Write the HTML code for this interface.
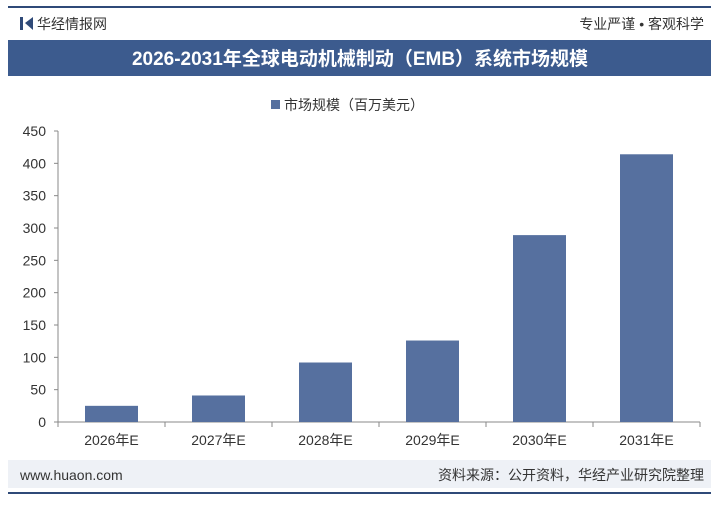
<!DOCTYPE html>
<html><head><meta charset="utf-8"><style>
body{margin:0;width:719px;height:500px;background:#fff;overflow:hidden;font-family:"Liberation Sans","Noto Sans CJK SC",sans-serif;}
svg text{font-family:"Liberation Sans","Noto Sans CJK SC",sans-serif;}
</style></head><body>
<svg width="719" height="500">
<line x1="8" y1="7" x2="711" y2="7" stroke="#2f4a78" stroke-width="2"/>
<g><rect x="20" y="17" width="3" height="13" fill="#2f4a78"/><polygon points="25,23 33,17 33,30" fill="#2f4a78"/></g>
<text x="37" y="29" font-size="14" fill="#333">华经情报网</text>
<text x="704" y="29" font-size="14" fill="#333" text-anchor="end">专业严谨 • 客观科学</text>
<rect x="8" y="40" width="703" height="36" fill="#3c5b8e"/>
<text x="360" y="65" font-size="19" font-weight="bold" fill="#fff" text-anchor="middle" font-family="Liberation Serif,Noto Serif CJK SC,serif">2026-2031年全球电动机械制动（EMB）系统市场规模</text>
<rect x="271" y="100" width="9" height="9" fill="#56709f"/>
<text x="284" y="110" font-size="14" fill="#333">市场规模（百万美元）</text>
<g id="axes"></g><g id="bars"></g>
<rect x="8" y="460" width="703" height="28" fill="#eef1f6"/>
<text x="20" y="480" font-size="14" fill="#333">www.huaon.com</text>
<text x="704" y="480" font-size="14" fill="#333" text-anchor="end">资料来源：公开资料，华经产业研究院整理</text>
<line x1="8" y1="493" x2="711" y2="493" stroke="#2f4a78" stroke-width="2"/>
</svg>
<script>
const categories=["2026年E","2027年E","2028年E","2029年E","2030年E","2031年E"];
const values=[25,41,92,126,289,414];
const ticks=[0,50,100,150,200,250,300,350,400,450];
const NS="http://www.w3.org/2000/svg";
const x0=58,x1=700,y0=422,yTop=131,maxV=450;
const bw=(x1-x0)/categories.length;
const y=v=>y0-(v/maxV)*(y0-yTop);
const xc=i=>x0+bw*(i+0.5);
function mk(t,a,p){const e=document.createElementNS(NS,t);for(const k in a)e.setAttribute(k,a[k]);p.appendChild(e);return e;}
const ax=document.getElementById('axes'),bg=document.getElementById('bars');
const yl=mk('line',{x1:x0,y1:yTop,x2:x0,y2:y0,stroke:'#888'},ax);


const xl=mk('line',{x1:x0,y1:y0,x2:x1,y2:y0,stroke:'#888'},ax);


ticks.forEach(t=>{const tx=mk('text',{x:x0-12,y:y(t)+5,'font-size':14,fill:'#333','text-anchor':'end'},ax);tx.textContent=t;


mk('line',{x1:x0-4,y1:y(t),x2:x0,y2:y(t),stroke:'#888'},ax);});
for(let i=0;i<=categories.length;i++)mk('line',{x1:x0+bw*i,y1:y0,x2:x0+bw*i,y2:y0+5,stroke:'#888'},ax);
categories.forEach((c,i)=>{const r=mk('rect',{x:xc(i)-26.5,y:y(values[i]),width:53,height:y0-y(values[i]),fill:'#56709f'},bg);


const tx=mk('text',{x:xc(i),y:445,'font-size':14,fill:'#333','text-anchor':'middle'},ax);tx.textContent=c;

});
</script>
</body></html>
